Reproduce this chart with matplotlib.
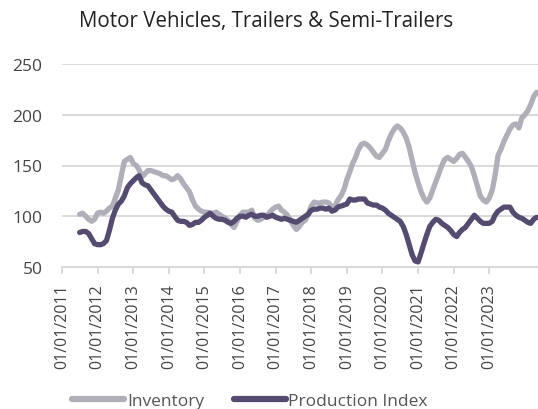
import matplotlib
matplotlib.use("Agg")
import matplotlib.pyplot as plt
import numpy as np
import pandas as pd

months = pd.date_range("2011-07-01", "2024-05-01", freq="MS")

inventory = [
    102, 103, 100, 97, 95, 97,                                   # 2011 Jul-Dec
    103, 104, 103, 105, 108, 110, 118, 126, 140, 154, 156, 158,  # 2012
    152, 150, 146, 139, 142, 145, 145, 144, 143, 142, 140, 140,  # 2013
    138, 136, 137, 140, 137, 132, 128, 124, 116, 110, 107, 105,  # 2014
    104, 104, 103, 103, 104, 102, 100, 98, 96, 92, 89, 95,       # 2015
    101, 104, 104, 104, 106, 98, 96, 97, 99, 100, 104, 107,      # 2016
    109, 110, 106, 104, 101, 96, 91, 87, 90, 94, 96, 102,        # 2017
    110, 114, 113, 113, 114, 114, 113, 109, 110, 116, 120, 126,  # 2018
    136, 144, 152, 158, 166, 171, 172, 170, 167, 163, 159, 158,  # 2019
    162, 166, 174, 181, 186, 189, 187, 183, 177, 168, 155, 143,  # 2020
    133, 124, 118, 114, 118, 126, 134, 142, 150, 156, 158, 156,  # 2021
    154, 157, 161, 162, 158, 154, 149, 140, 130, 120, 116, 114,  # 2022
    118, 126, 140, 160, 166, 174, 180, 186, 190, 191, 187, 197,  # 2023
    200, 204, 210, 218, 222,                                     # 2024 Jan-May
]

production = [
    84, 85, 85, 83, 78, 73,                                      # 2011 Jul-Dec
    72, 72, 73, 76, 86, 98, 106, 112, 115, 120, 128, 132,        # 2012
    135, 138, 140, 133, 131, 130, 126, 122, 118, 114, 110, 107,  # 2013
    105, 104, 100, 96, 95, 95, 94, 91, 92, 94, 94, 96,           # 2014
    99, 101, 103, 100, 98, 97, 97, 96, 94, 93, 95, 98,           # 2015
    100, 100, 99, 101, 102, 100, 100, 101, 101, 99, 100, 101,    # 2016
    99, 98, 97, 98, 97, 96, 95, 94, 96, 98, 100, 102,            # 2017
    106, 107, 107, 108, 108, 107, 108, 105, 106, 109, 110, 111,  # 2018
    112, 117, 116, 116, 117, 117, 117, 113, 112, 111, 111, 109,  # 2019
    108, 106, 103, 101, 99, 97, 95, 90, 82, 72, 62, 56,          # 2020
    55, 64, 73, 82, 90, 94, 97, 96, 93, 91, 89, 86,              # 2021
    82, 80, 84, 87, 89, 93, 97, 101, 98, 95, 93, 93,             # 2022
    93, 95, 101, 105, 107, 109, 109, 109, 104, 101, 99, 98,      # 2023
    96, 94, 93, 97, 99,                                          # 2024 Jan-May
]

tick_years = list(range(2011, 2024))
tick_labels = [f"01/01/{y}" for y in tick_years]
y_ticks = [50, 100, 150, 200, 250]

title = "Motor Vehicles, Trailers & Semi-Trailers"
series_names = ["Inventory", "Production Index"]
colors = ["#AFAEB9", "#554B70"]

plt.rcParams["font.family"] = ["Open Sans", "DejaVu Sans"]

fig = plt.figure(figsize=(5.38, 4.10), dpi=100)
ax = fig.add_axes([62 / 538, (410 - 268) / 410, 1 - 62 / 538, (268 - 65) / 410])

ax.plot(months, inventory, color=colors[0], lw=3.8, solid_capstyle="round",
        solid_joinstyle="round", label=series_names[0], zorder=3)
ax.plot(months, production, color=colors[1], lw=3.8, solid_capstyle="round",
        solid_joinstyle="round", label=series_names[1], zorder=4)

ax.set_ylim(50, 250)
ax.set_xlim(pd.Timestamp("2011-01-01"), pd.Timestamp("2024-05-15"))
ax.set_yticks(y_ticks)
ax.set_yticklabels([str(v) for v in y_ticks])
ax.set_xticks([pd.Timestamp(f"{y}-01-01") for y in tick_years])
ax.set_xticklabels(tick_labels, rotation=90, ha="center", va="top")

ax.grid(axis="y", color="#D9D9D9", lw=1.4)
ax.set_axisbelow(True)
for s in ["top", "right", "left"]:
    ax.spines[s].set_visible(False)
ax.spines["bottom"].set_color("#D9D9D9")
ax.spines["bottom"].set_linewidth(1.4)

ax.tick_params(axis="y", length=0, pad=14, labelsize=12.5, labelcolor="#444444")
ax.tick_params(axis="x", length=5, width=1.4, color="#D9D9D9", pad=7,
               labelsize=11.5, labelcolor="#444444")

fig.text(0.495, 0.948, title, ha="center", va="center", fontsize=14.8, color="#222222")

leg = fig.legend(loc="center", bbox_to_anchor=(0.465, 0.02), ncol=2, frameon=False,
                 handlelength=3.0, handletextpad=0.15, columnspacing=1.7,
                 fontsize=12.5)
for t in leg.get_texts():
    t.set_color("#555555")
for h in leg.get_lines():
    h.set_linewidth(4.5)
    h.set_solid_capstyle("round")

fig.savefig("out.png", dpi=100)
